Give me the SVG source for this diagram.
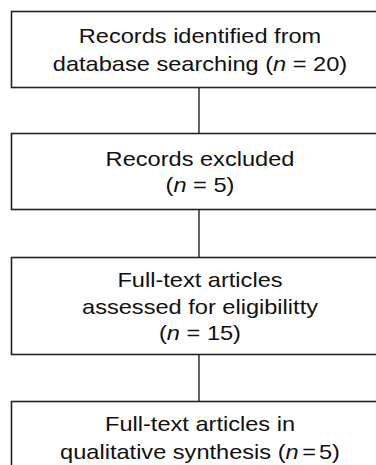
<svg xmlns="http://www.w3.org/2000/svg" width="376" height="465" viewBox="0 0 376 465">
<style>
.box{fill:#fff;stroke:#222;stroke-width:1.6}
.conn{stroke:#222;stroke-width:1.4;fill:none}
text{font-family:"Liberation Sans",Arial,sans-serif;font-size:20px;fill:#111;text-anchor:middle}
.i{font-style:italic}
</style>
<rect width="376" height="465" fill="#fff"/>
<g id="connectors">
<line class="conn" x1="199" y1="87" x2="199" y2="133"/>
<line class="conn" x1="199" y1="209" x2="199" y2="257"/>
<line class="conn" x1="199" y1="355" x2="199" y2="401"/>
</g>
<g id="node1">
<rect class="box" x="11.5" y="11.5" width="376" height="76"/>
<g transform="matrix(1.18 0 0 1 200 0)">
<text x="0" y="43">Records identified from</text>
<text x="0" y="71">database searching (<tspan class="i">n</tspan> = 20)</text>
</g>
</g>
<g id="node2">
<rect class="box" x="11.5" y="133.5" width="376" height="76"/>
<g transform="matrix(1.18 0 0 1 200 0)">
<text x="0" y="166">Records excluded</text>
<text x="0" y="192">(<tspan class="i">n</tspan> = 5)</text>
</g>
</g>
<g id="node3">
<rect class="box" x="11.5" y="257.5" width="376" height="97"/>
<g transform="matrix(1.18 0 0 1 200 0)">
<text x="0" y="287">Full-text articles</text>
<text x="0" y="314">assessed for eligibilitty</text>
<text x="0" y="340">(<tspan class="i">n</tspan> = 15)</text>
</g>
</g>
<g id="node4">
<rect class="box" x="11.5" y="401.5" width="376" height="80"/>
<g transform="matrix(1.18 0 0 1 200 0)">
<text x="0" y="431">Full-text articles in</text>
<text x="0" y="459">qualitative synthesis (<tspan class="i">n</tspan><tspan dx="3">=</tspan><tspan dx="2.5">5</tspan>)</text>
</g>
</g>
</svg>
